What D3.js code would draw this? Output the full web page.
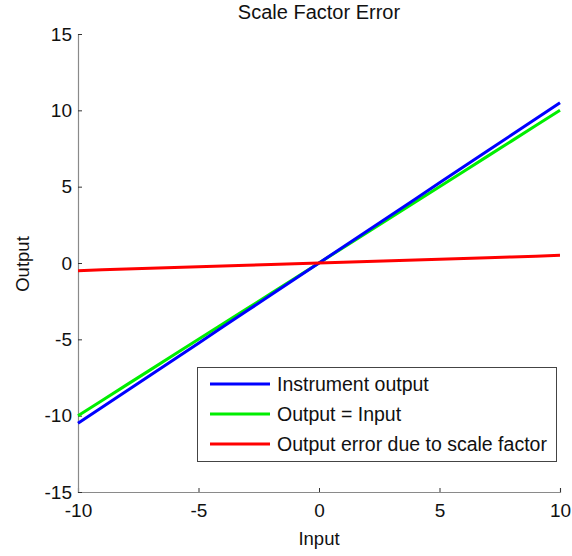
<!DOCTYPE html>
<html><head><meta charset="utf-8">
<script src="https://cdn.jsdelivr.net/npm/d3@7"></script>
<style>body{margin:0;background:#fff;} text{font-family:"Liberation Sans",Arial,sans-serif;fill:#111;}</style>
</head><body><svg id="c" width="572" height="556"></svg>
<script>
const inputs = [-10,-9,-8,-7,-6,-5,-4,-3,-2,-1,0,1,2,3,4,5,6,7,8,9,10];
const instrumentOutput = [-10.5,-9.45,-8.4,-7.35,-6.3,-5.25,-4.2,-3.15,-2.1,-1.05,0,1.05,2.1,3.15,4.2,5.25,6.3,7.35,8.4,9.45,10.5];
const idealOutput = [-10,-9,-8,-7,-6,-5,-4,-3,-2,-1,0,1,2,3,4,5,6,7,8,9,10];
const scaleError = [-0.5,-0.45,-0.4,-0.35,-0.3,-0.25,-0.2,-0.15,-0.1,-0.05,0,0.05,0.1,0.15,0.2,0.25,0.3,0.35,0.4,0.45,0.5];
const xTicks = [-10,-5,0,5,10];
const yTicks = [-15,-10,-5,0,5,10,15];
const seriesNames = ["Instrument output","Output = Input","Output error due to scale factor"];
const seriesColors = ["#0000ff","#00ee00","#ff0000"];

const svg = d3.select("#c");
const x = d3.scaleLinear().domain([-10,10]).range([78,560]);
const y = d3.scaleLinear().domain([-15,15]).range([492,34]);
const fmt = d => String(d);

// axes
const xa = svg.append("g").attr("transform","translate(0,492)")
  .call(d3.axisBottom(x).tickValues(xTicks).tickSize(-4).tickPadding(12).tickFormat(fmt));
const ya = svg.append("g").attr("transform","translate(78,0)")
  .call(d3.axisLeft(y).tickValues(yTicks).tickSize(-4).tickPadding(6).tickFormat(fmt));
[xa,ya].forEach(a=>{
  a.select(".domain").attr("stroke","#8a8a8a").attr("stroke-width",1.2);
  a.selectAll(".tick line").attr("stroke","#333").attr("stroke-width",1);
  a.selectAll(".tick text").style("font-size","19px").attr("fill","#111").style("font-family","'Liberation Sans',Arial,sans-serif");
});

const data = [instrumentOutput, idealOutput, scaleError];
const line = d3.line().x((d,i)=>x(inputs[i])).y(d=>y(d));
[1,0,2].forEach(k=>{
  svg.append("path").datum(data[k]).attr("d",line)
    .attr("fill","none").attr("stroke",seriesColors[k]).attr("stroke-width",3);
});

// title & labels
svg.append("text").attr("x",319).attr("y",19).attr("text-anchor","middle").style("font-size","20px").text("Scale Factor Error");
svg.append("text").attr("x",319).attr("y",545).attr("text-anchor","middle").style("font-size","18.5px").text("Input");
svg.append("text").attr("transform","translate(29,264) rotate(-90)").attr("text-anchor","middle").style("font-size","18.5px").text("Output");

// legend
const lg = svg.append("g");
lg.append("rect").attr("x",197.5).attr("y",367.5).attr("width",359).attr("height",94)
  .attr("fill","#fff").attr("stroke","#444").attr("stroke-width",1);
seriesNames.forEach((n,i)=>{
  const yy = 384 + i*30;
  lg.append("line").attr("x1",210).attr("x2",270).attr("y1",yy).attr("y2",yy)
    .attr("stroke",seriesColors[i]).attr("stroke-width",3);
  lg.append("text").attr("x",277).attr("y",yy+7).style("font-size","19.5px").text(n);
});
</script></body></html>
